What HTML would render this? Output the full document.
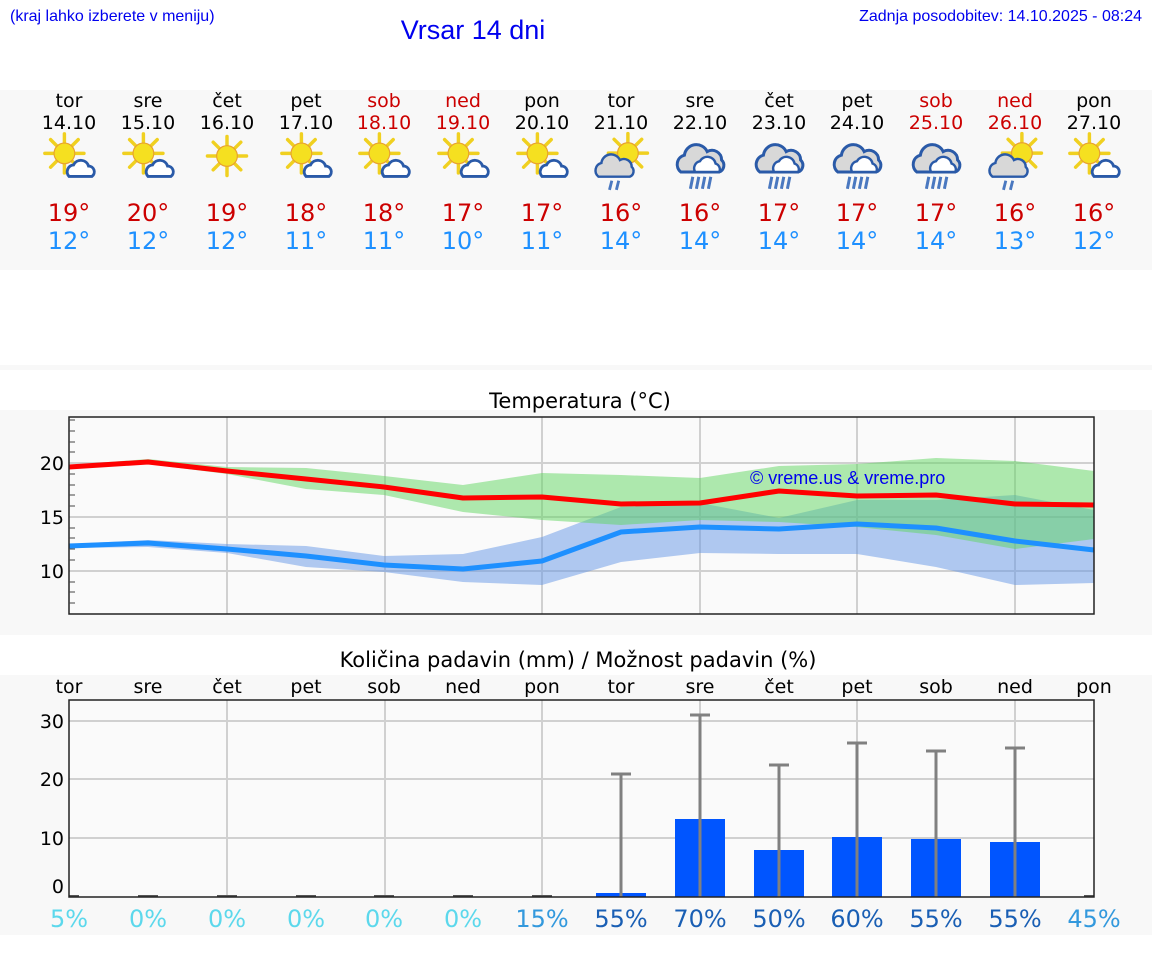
<!DOCTYPE html>
<html><head><meta charset="utf-8"><style>
body{margin:0;background:#fff;width:1152px;height:975px;overflow:hidden}
svg{display:block}
.a{font-family:"Liberation Sans",sans-serif}
.d{font-family:"DejaVu Sans",sans-serif}
</style></head><body>
<svg width="1152" height="975" viewBox="0 0 1152 975" xmlns="http://www.w3.org/2000/svg">
<defs>
<g id="sun"><g stroke="#f0d020" stroke-width="3" stroke-linecap="round"><line x1="-17" y1="0" x2="17" y2="0"/><line x1="0" y1="-17" x2="0" y2="17"/><line x1="-12" y1="-12" x2="12" y2="12"/><line x1="-12" y1="12" x2="12" y2="-12"/></g><circle r="9" fill="#f5e020" stroke="#e8a030" stroke-width="1"/></g>
<g id="scl"><path d="M-8,8 a6,6 0 0 1 4,-10 a7,7 0 0 1 13,1 a5,5 0 0 1 3,9 z" fill="#fff" stroke="#2a5aa8" stroke-width="2.5"/></g>
<g id="bcl"><path d="M-16,10 a8,8 0 0 1 3,-14 a10,10 0 0 1 19,-3 a8,8 0 0 1 12,7 a6,6 0 0 1 -2,10 z" fill="#d8d8d8" stroke="#2a5aa8" stroke-width="2.5"/><path d="M-4,10 a6,6 0 0 1 4,-9 a7,7 0 0 1 13,2 a5,5 0 0 1 3,7 z" fill="#fff" stroke="#2a5aa8" stroke-width="2"/></g>
<g id="rain" stroke="#4a78c0" stroke-width="2.5"><line x1="-6" y1="14" x2="-8" y2="24"/><line x1="-1" y1="14" x2="-3" y2="24"/><line x1="4" y1="14" x2="2" y2="24"/><line x1="9" y1="14" x2="7" y2="24"/></g>
<g id="sc0"><use href="#sun" x="-4" y="-4"/><use href="#scl" x="8" y="8"/></g>
<g id="sc" transform="scale(1.15)"><use href="#sc0"/></g>
<g id="sn" transform="scale(1.15)"><use href="#sun"/></g>
<g id="rc"><g transform="scale(1.2)"><use href="#bcl"/><use href="#rain"/></g></g>
<g id="src"><g transform="scale(1.15)"><use href="#sun" x="6" y="-6"/><g transform="translate(-6,6) scale(0.85)"><path d="M-16,10 a8,8 0 0 1 3,-14 a10,10 0 0 1 19,-3 a8,8 0 0 1 12,7 a6,6 0 0 1 -2,10 z" fill="#d8d8d8" stroke="#2a5aa8" stroke-width="2.5"/></g><g transform="translate(-4,2)"><line x1="-4" y1="16" x2="-6" y2="24" stroke="#4a78c0" stroke-width="2.5"/><line x1="2" y1="16" x2="0" y2="24" stroke="#4a78c0" stroke-width="2.5"/></g></g></g>
</defs>

<text x="10" y="21" class="a" font-size="16" fill="#0000ee">(kraj lahko izberete v meniju)</text>
<text x="473" y="39" class="a" font-size="27" fill="#0000ee" text-anchor="middle">Vrsar 14 dni</text>
<text x="1142" y="21" class="a" font-size="16" fill="#0000ee" text-anchor="end">Zadnja posodobitev: 14.10.2025 - 08:24</text>

<rect x="0" y="90" width="1152" height="180" fill="#f8f8f8"/>
<rect x="0" y="365" width="1152" height="5" fill="#f8f8f8"/>
<rect x="0" y="410" width="1152" height="225" fill="#f8f8f8"/>
<rect x="0" y="675" width="1152" height="260" fill="#f8f8f8"/>

<g class="d" font-size="19" text-anchor="middle" fill="#000">
<text x="69" y="107">tor</text><text x="148" y="107">sre</text><text x="227" y="107">čet</text><text x="306" y="107">pet</text><text x="384" y="107" fill="#cc0000">sob</text><text x="463" y="107" fill="#cc0000">ned</text><text x="542" y="107">pon</text><text x="621" y="107">tor</text><text x="700" y="107">sre</text><text x="779" y="107">čet</text><text x="857" y="107">pet</text><text x="936" y="107" fill="#cc0000">sob</text><text x="1015" y="107" fill="#cc0000">ned</text><text x="1094" y="107">pon</text>
<text x="69" y="129">14.10</text><text x="148" y="129">15.10</text><text x="227" y="129">16.10</text><text x="306" y="129">17.10</text><text x="384" y="129" fill="#cc0000">18.10</text><text x="463" y="129" fill="#cc0000">19.10</text><text x="542" y="129">20.10</text><text x="621" y="129">21.10</text><text x="700" y="129">22.10</text><text x="779" y="129">23.10</text><text x="857" y="129">24.10</text><text x="936" y="129" fill="#cc0000">25.10</text><text x="1015" y="129" fill="#cc0000">26.10</text><text x="1094" y="129">27.10</text>
</g>
<g>
<use href="#sc" x="69" y="158"/><use href="#sc" x="148" y="158"/><use href="#sn" x="227" y="156"/><use href="#sc" x="306" y="158"/><use href="#sc" x="384" y="158"/><use href="#sc" x="463" y="158"/><use href="#sc" x="542" y="158"/><use href="#src" x="621" y="160"/><use href="#rc" x="700" y="160"/><use href="#rc" x="779" y="160"/><use href="#rc" x="857" y="160"/><use href="#rc" x="936" y="160"/><use href="#src" x="1015" y="160"/><use href="#sc" x="1094" y="158"/>
</g>
<g class="d" font-size="24" text-anchor="middle" fill="#cc0000">
<text x="69" y="221">19°</text><text x="148" y="221">20°</text><text x="227" y="221">19°</text><text x="306" y="221">18°</text><text x="384" y="221">18°</text><text x="463" y="221">17°</text><text x="542" y="221">17°</text><text x="621" y="221">16°</text><text x="700" y="221">16°</text><text x="779" y="221">17°</text><text x="857" y="221">17°</text><text x="936" y="221">17°</text><text x="1015" y="221">16°</text><text x="1094" y="221">16°</text>
</g>
<g class="d" font-size="24" text-anchor="middle" fill="#1e90ff">
<text x="69" y="249">12°</text><text x="148" y="249">12°</text><text x="227" y="249">12°</text><text x="306" y="249">11°</text><text x="384" y="249">11°</text><text x="463" y="249">10°</text><text x="542" y="249">11°</text><text x="621" y="249">14°</text><text x="700" y="249">14°</text><text x="779" y="249">14°</text><text x="857" y="249">14°</text><text x="936" y="249">14°</text><text x="1015" y="249">13°</text><text x="1094" y="249">12°</text>
</g>

<text x="580" y="408" class="d" font-size="21" text-anchor="middle">Temperatura (°C)</text>
<rect x="69" y="417" width="1025" height="197" fill="#fafafa"/>
<g stroke="#d0d0d0" stroke-width="2">
<line x1="69" y1="463" x2="1094" y2="463"/><line x1="69" y1="517" x2="1094" y2="517"/><line x1="69" y1="571" x2="1094" y2="571"/>
<line x1="227" y1="417" x2="227" y2="614"/><line x1="385" y1="417" x2="385" y2="614"/><line x1="542" y1="417" x2="542" y2="614"/><line x1="700" y1="417" x2="700" y2="614"/><line x1="857" y1="417" x2="857" y2="614"/><line x1="1015" y1="417" x2="1015" y2="614"/>
</g>
<polygon fill="#6496e6" fill-opacity="0.5" points="69,544 148,540 227,544 306,546 384,556 463,554 542,537 621,507 700,503 779,518 857,500 936,500 1015,495 1094,510 1094,583 1015,585 936,567 857,554 779,554 700,553 621,562 542,585 463,582 384,572 306,567 227,553 148,547 69,548"/>
<polygon fill="#5fd65f" fill-opacity="0.5" points="69,465 148,459 227,467 306,468 384,476 463,485 542,473 621,475 700,478 779,466 857,464 936,458 1015,461 1094,471 1094,539 1015,549 936,535 857,527 779,522 700,520 621,525 542,520 463,512 384,495 306,489 227,474 148,464 69,467"/>
<polyline fill="none" stroke="#ff0000" stroke-width="5" stroke-linejoin="round" points="69,467 148,462 227,471 306,479 384,487 463,498 542,497 621,504 700,503 779,491 857,496 936,495 1015,504 1094,505"/>
<polyline fill="none" stroke="#1e90ff" stroke-width="5" stroke-linejoin="round" points="69,546 148,543 227,549 306,556 384,565 463,569 542,561 621,532 700,527 779,529 857,524 936,528 1015,541 1094,550"/>
<text x="750" y="484" class="a" font-size="18" fill="#0000ee">© vreme.us &amp; vreme.pro</text>
<rect x="69" y="417" width="1025" height="197" fill="none" stroke="#222" stroke-width="1.5"/>
<g stroke="#444" stroke-width="1">
<line x1="69" y1="420" x2="75" y2="420"/><line x1="69" y1="431" x2="75" y2="431"/><line x1="69" y1="442" x2="75" y2="442"/><line x1="69" y1="452" x2="75" y2="452"/><line x1="69" y1="474" x2="75" y2="474"/><line x1="69" y1="485" x2="75" y2="485"/><line x1="69" y1="495" x2="75" y2="495"/><line x1="69" y1="506" x2="75" y2="506"/><line x1="69" y1="528" x2="75" y2="528"/><line x1="69" y1="538" x2="75" y2="538"/><line x1="69" y1="549" x2="75" y2="549"/><line x1="69" y1="560" x2="75" y2="560"/><line x1="69" y1="582" x2="75" y2="582"/><line x1="69" y1="592" x2="75" y2="592"/><line x1="69" y1="603" x2="75" y2="603"/>
</g>
<g class="d" font-size="19" text-anchor="end"><text x="64" y="470">20</text><text x="64" y="524">15</text><text x="64" y="578">10</text></g>

<text x="578" y="667" class="d" font-size="21" text-anchor="middle">Količina padavin (mm) / Možnost padavin (%)</text>
<g class="d" font-size="19" text-anchor="middle">
<text x="69" y="693">tor</text><text x="148" y="693">sre</text><text x="227" y="693">čet</text><text x="306" y="693">pet</text><text x="384" y="693">sob</text><text x="463" y="693">ned</text><text x="542" y="693">pon</text><text x="621" y="693">tor</text><text x="700" y="693">sre</text><text x="779" y="693">čet</text><text x="857" y="693">pet</text><text x="936" y="693">sob</text><text x="1015" y="693">ned</text><text x="1094" y="693">pon</text>
</g>
<rect x="69" y="700" width="1025" height="197" fill="#fafafa"/>
<g stroke="#d0d0d0" stroke-width="2">
<line x1="69" y1="721" x2="1094" y2="721"/><line x1="69" y1="779" x2="1094" y2="779"/><line x1="69" y1="838" x2="1094" y2="838"/>
<line x1="227" y1="700" x2="227" y2="897"/><line x1="385" y1="700" x2="385" y2="897"/><line x1="542" y1="700" x2="542" y2="897"/><line x1="700" y1="700" x2="700" y2="897"/><line x1="857" y1="700" x2="857" y2="897"/><line x1="1015" y1="700" x2="1015" y2="897"/>
</g>
<g fill="#0055ff">
<rect x="596" y="893" width="50" height="4"/><rect x="675" y="819" width="50" height="78"/><rect x="754" y="850" width="50" height="47"/><rect x="832" y="837" width="50" height="60"/><rect x="911" y="839" width="50" height="58"/><rect x="990" y="842" width="50" height="55"/>
</g>
<g stroke="#808080" stroke-width="3">
<line x1="621" y1="774" x2="621" y2="897"/><line x1="611" y1="774" x2="631" y2="774"/>
<line x1="700" y1="715" x2="700" y2="897"/><line x1="690" y1="715" x2="710" y2="715"/>
<line x1="779" y1="765" x2="779" y2="897"/><line x1="769" y1="765" x2="789" y2="765"/>
<line x1="857" y1="743" x2="857" y2="897"/><line x1="847" y1="743" x2="867" y2="743"/>
<line x1="936" y1="751" x2="936" y2="897"/><line x1="926" y1="751" x2="946" y2="751"/>
<line x1="1015" y1="748" x2="1015" y2="897"/><line x1="1005" y1="748" x2="1025" y2="748"/>
</g>
<g stroke="#555" stroke-width="2"><line x1="69" y1="896" x2="79" y2="896"/><line x1="138" y1="896" x2="158" y2="896"/><line x1="217" y1="896" x2="237" y2="896"/><line x1="296" y1="896" x2="316" y2="896"/><line x1="374" y1="896" x2="394" y2="896"/><line x1="453" y1="896" x2="473" y2="896"/><line x1="532" y1="896" x2="552" y2="896"/><line x1="1084" y1="896" x2="1094" y2="896"/></g>
<rect x="69" y="700" width="1025" height="197" fill="none" stroke="#222" stroke-width="1.5"/>
<g class="d" font-size="19" text-anchor="end"><text x="64" y="728">30</text><text x="64" y="786">20</text><text x="64" y="845">10</text><text x="64" y="893">0</text></g>
<g class="d" font-size="24" text-anchor="middle">
<text x="69" y="927" fill="#5cd8ec">5%</text><text x="148" y="927" fill="#5cd8ec">0%</text><text x="227" y="927" fill="#5cd8ec">0%</text><text x="306" y="927" fill="#5cd8ec">0%</text><text x="384" y="927" fill="#5cd8ec">0%</text><text x="463" y="927" fill="#5cd8ec">0%</text><text x="542" y="927" fill="#3399dd">15%</text><text x="621" y="927" fill="#1a5fb4">55%</text><text x="700" y="927" fill="#1a5fb4">70%</text><text x="779" y="927" fill="#1a5fb4">50%</text><text x="857" y="927" fill="#1a5fb4">60%</text><text x="936" y="927" fill="#1a5fb4">55%</text><text x="1015" y="927" fill="#1a5fb4">55%</text><text x="1094" y="927" fill="#3399dd">45%</text>
</g>
</svg>
</body></html>
